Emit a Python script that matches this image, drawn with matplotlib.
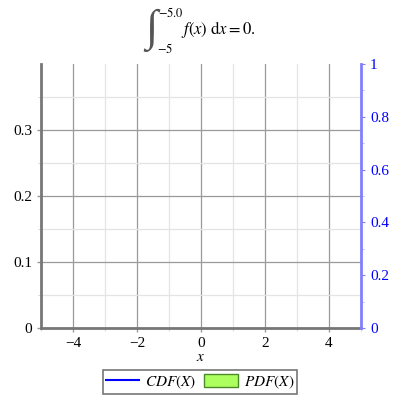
import matplotlib
matplotlib.use("Agg")
import matplotlib.pyplot as plt
from matplotlib.patches import Patch
from matplotlib.lines import Line2D

plt.rcParams['font.family'] = ['Liberation Serif', 'DejaVu Serif']
plt.rcParams['mathtext.fontset'] = 'stix'

# data (chart shows empty series)
x_vals = []
cdf_vals = []
pdf_vals = []
x_ticks = [-4, -2, 0, 2, 4]
left_ticks = [0, 0.1, 0.2, 0.3]
left_labels = ['0', '0.1', '0.2', '0.3']
right_ticks = [0, 0.2, 0.4, 0.6, 0.8, 1]
right_labels = ['0', '0.2', '0.4', '0.6', '0.8', '1']

fig = plt.figure(figsize=(4, 4), dpi=100)
ax = fig.add_axes([0.1025, 0.18, 0.8, 0.66])
ax.set_xlim(-5, 5)
ax.set_ylim(0, 0.4)

ax.bar(x_vals, pdf_vals, color='#adff5f', edgecolor='#4a8a2a')
ax.set_xticks(x_ticks)
ax.set_xticks([-5, -3, -1, 1, 3, 5], minor=True)
ax.set_yticks(left_ticks)
ax.set_yticklabels(left_labels)
ax.set_yticks([0.05, 0.15, 0.25, 0.35], minor=True)
ax.grid(True, which='major', color='#999999', lw=0.9)
ax.grid(True, which='minor', color='#e4e4e4', lw=0.9)
ax.set_axisbelow(True)
for s in ['top', 'right']:
    ax.spines[s].set_visible(False)
for s in ['left', 'bottom']:
    ax.spines[s].set_color('#777777')
    ax.spines[s].set_linewidth(2)
ax.tick_params(axis='both', which='major', labelsize=11, color='#999999', length=3, width=1)
ax.tick_params(axis='both', which='minor', length=2, color='#cccccc')
ax.set_xlabel('$x$', fontsize=11, labelpad=1)

ax2 = ax.twinx()
ax2.set_ylim(0, 1)
ax2.plot(x_vals, cdf_vals, color='#0000ff')
ax2.set_yticks(right_ticks)
ax2.set_yticklabels(right_labels)
ax2.set_yticks([0.1, 0.3, 0.5, 0.7, 0.9], minor=True)
for s in ['top', 'left', 'bottom']:
    ax2.spines[s].set_visible(False)
ax2.spines['right'].set_color('#8080ff')
ax2.spines['right'].set_linewidth(2)
ax2.tick_params(axis='y', which='major', colors='#8080ff', labelcolor='#0000ff', labelsize=11, length=3)
ax2.tick_params(axis='y', which='minor', colors='#b0b0ff', length=2)

# title: integral built from pieces
fig.text(0.378, 0.925, '\u222b', ha='center', va='center', fontsize=32,
         family='Liberation Serif', color='#555555')
fig.text(0.395, 0.968, r'$-5.0$', ha='left', va='center', fontsize=9)
fig.text(0.392, 0.878, r'$-5$', ha='left', va='center', fontsize=9)
fig.text(0.452, 0.925, r'$f(x)\ \mathrm{d}x = 0.$', ha='left', va='center', fontsize=12)

handles = [Line2D([], [], color='#0000ff', lw=1.5), Patch(facecolor='#adff5f', edgecolor='#4a8a2a')]
leg = fig.legend(handles, ['$CDF(X)$', '$PDF(X)$'], loc='center', bbox_to_anchor=(0.5, 0.045),
                 ncol=2, fontsize=11, frameon=True, fancybox=False, edgecolor='#555555',
                 handlelength=2.2, handleheight=0.9, columnspacing=0.5, handletextpad=0.4,
                 borderpad=0.2, borderaxespad=0)
leg.get_frame().set_linewidth(1.2)

fig.savefig('out.png', dpi=100)
